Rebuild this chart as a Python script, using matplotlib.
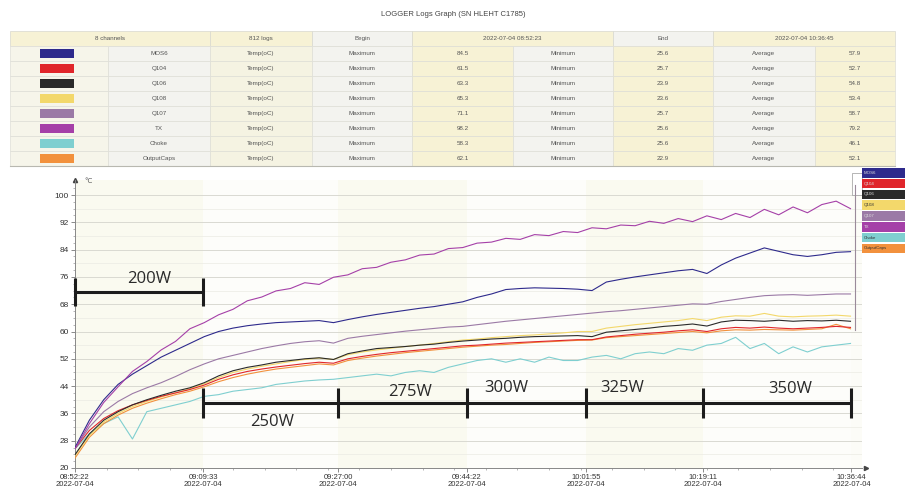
import matplotlib.pyplot as plt
from matplotlib.patches import Rectangle
from matplotlib.ticker import MultipleLocator

# sample index of each point (812 logs, one point every 15 samples)
samples = list(range(0, 811, 15))

channels = ['MOS6', 'Q104', 'Q106', 'Q108', 'Q107', 'TX', 'Choke', 'OutputCaps']
colors = ['#2e2a8c', '#e0262b', '#2a2a2a', '#f3d86b', '#9b7aa6', '#a540a8', '#7fcfd0', '#f2913d']

mos6 = [26.0, 34.0, 40.0, 44.5, 47.5, 50.0, 52.5, 54.5, 56.5, 58.5, 60.0, 61.0, 61.7, 62.2, 62.6, 62.8, 63.0, 63.2,
        62.6, 63.5, 64.3, 65.0, 65.6, 66.2, 66.8, 67.3, 68.0, 68.7, 70.0, 71.0, 72.3, 72.6, 72.8, 72.7, 72.6, 72.4,
        72.0, 74.5, 75.3, 76.0, 76.6, 77.2, 77.8, 78.2, 77.0, 79.5, 81.5, 83.0, 84.5, 83.5, 82.5, 82.0, 82.5, 83.2, 83.4]
q104 = [25.7, 31.0, 34.5, 36.8, 38.5, 39.8, 41.0, 42.0, 43.0, 44.3, 46.0, 47.3, 48.3, 49.0, 49.6, 50.1, 50.6, 51.0,
        50.7, 52.0, 52.7, 53.3, 53.8, 54.2, 54.6, 55.0, 55.4, 55.8, 56.0, 56.3, 56.6, 56.8, 57.0, 57.2, 57.4, 57.6,
        57.6, 58.4, 58.8, 59.2, 59.5, 59.8, 60.2, 60.5, 60.0, 60.8, 61.2, 61.0, 61.3, 61.0, 60.8, 61.0, 61.2, 61.5, 61.2]
q106 = [23.9, 30.0, 34.0, 36.5, 38.5, 40.0, 41.3, 42.5, 43.5, 45.0, 47.0, 48.5, 49.5, 50.2, 51.0, 51.5, 52.0, 52.3,
        51.8, 53.5, 54.3, 55.0, 55.3, 55.6, 56.0, 56.3, 56.8, 57.2, 57.5, 57.8, 58.0, 58.3, 58.5, 58.6, 58.7, 58.8,
        58.5, 59.8, 60.2, 60.6, 61.0, 61.5, 61.8, 62.2, 61.6, 62.8, 63.3, 63.2, 63.0, 63.3, 63.0, 63.2, 63.1, 63.3, 63.0]
q108 = [23.6, 29.5, 33.5, 36.0, 38.0, 39.5, 40.8, 42.0, 43.2, 44.7, 46.5, 48.0, 49.0, 49.8, 50.5, 51.2, 51.8, 52.2,
        51.8, 53.2, 54.0, 54.6, 55.1, 55.6, 56.0, 56.5, 57.0, 57.5, 57.8, 58.2, 58.5, 58.8, 59.0, 59.3, 59.6, 60.0,
        60.0, 61.0, 61.5, 62.0, 62.4, 62.8, 63.2, 63.8, 63.2, 64.2, 64.6, 64.5, 65.3, 64.5, 64.3, 64.5, 64.6, 64.8, 64.5]
q107 = [25.7, 32.0, 36.5, 39.5, 41.8, 43.5, 45.0, 46.8, 48.8, 50.5, 52.0, 53.0, 54.0, 55.0, 55.8, 56.5, 57.0, 57.3,
        56.6, 58.0, 58.6, 59.1, 59.6, 60.1, 60.5, 60.9, 61.3, 61.5, 62.0, 62.5, 63.0, 63.4, 63.8, 64.2, 64.6, 65.0,
        65.4, 65.8, 66.1, 66.5, 66.9, 67.3, 67.7, 68.1, 68.0, 68.8, 69.4, 70.0, 70.5, 70.7, 70.8, 70.6, 70.8, 71.0, 71.0]
tx = [25.6, 33.0, 39.2, 43.8, 48.3, 51.2, 54.6, 57.1, 60.8, 62.6, 64.9, 66.5, 69.0, 70.1, 71.9, 72.6, 74.3, 73.8,
      75.9, 76.6, 78.4, 78.8, 80.3, 81.0, 82.4, 82.7, 84.3, 84.6, 85.9, 86.2, 87.3, 87.0, 88.4, 88.1, 89.3, 89.0,
      90.4, 90.1, 91.2, 91.0, 92.3, 91.7, 93.1, 92.2, 93.9, 92.8, 94.6, 93.4, 95.8, 94.2, 96.5, 94.8, 97.2, 98.2, 96.0]
choke = [25.6, 30.0, 33.0, 35.0, 28.5, 36.5, 37.5, 38.5, 39.5, 41.0, 41.5, 42.5, 43.0, 43.5, 44.5, 45.0, 45.5, 45.8,
         46.0, 46.5, 47.0, 47.5, 47.0, 48.0, 48.5, 48.0, 49.5, 50.5, 51.5, 52.0, 51.0, 52.0, 51.0, 52.5, 51.5, 51.5,
         52.5, 53.0, 52.0, 53.5, 54.0, 53.5, 55.0, 54.5, 56.0, 56.5, 58.3, 55.0, 56.5, 53.5, 55.5, 54.0, 55.5, 56.0, 56.5]
outcaps = [22.9, 29.0, 33.0, 35.5, 37.5, 39.0, 40.3, 41.5, 42.5, 43.8, 45.3, 46.5, 47.5, 48.3, 49.0, 49.5, 50.0, 50.5,
           50.2, 51.5, 52.2, 52.8, 53.3, 53.8, 54.2, 54.6, 55.0, 55.4, 55.7, 56.0, 56.2, 56.5, 56.8, 57.0, 57.2, 57.4,
           57.5, 58.2, 58.5, 58.8, 59.1, 59.4, 59.7, 60.0, 59.6, 60.2, 60.5, 60.4, 60.6, 60.5, 60.4, 60.6, 60.8, 62.1, 60.8]
series = [mos6, q104, q106, q108, q107, tx, choke, outcaps]

t_max = [84.5, 61.5, 63.3, 65.3, 71.1, 98.2, 58.3, 62.1]
t_min = [25.6, 25.7, 23.9, 23.6, 25.7, 25.6, 25.6, 22.9]
t_avg = [57.9, 52.7, 54.8, 53.4, 58.7, 79.2, 46.1, 52.1]

tick_samples = [0, 134, 275, 409, 534, 656, 811]
tick_times = ['08:52:22', '09:09:33', '09:27:00', '09:44:22', '10:01:55', '10:19:11', '10:36:44']
power_labels = ['200W', '250W', '275W', '300W', '325W', '350W']

fig = plt.figure(figsize=(9.05, 4.96), dpi=100)
fig.patch.set_facecolor('white')

# ---- chart ----
ax = fig.add_axes([75 / 905, 28 / 496, 787 / 905, 288 / 496])
ax.set_facecolor('#fcfcf7')
band = ['#fafaf0', '#fdfdfa']
for i in range(len(tick_samples) - 1):
    ax.axvspan(tick_samples[i], tick_samples[i + 1], color=band[i % 2], lw=0, zorder=0)
for v in range(20, 101, 8):
    ax.axhline(v, color='#d9d9d2', lw=0.7, zorder=1)
for v in range(24, 101, 8):
    ax.axhline(v, color='#ebebe4', lw=0.5, zorder=1)

order = [6, 7, 3, 1, 2, 4, 0, 5]
for k in order:
    ax.plot(samples, series[k], color=colors[k], lw=0.8, zorder=3)

ax.set_xlim(0, 822)
ax.set_ylim(20, 104.4)
ax.set_yticks(range(20, 101, 8))
ax.yaxis.set_minor_locator(MultipleLocator(2))
ax.xaxis.set_minor_locator(MultipleLocator(33))
ax.set_xticks(tick_samples)
ax.set_xticklabels([t + '\n2022-07-04' for t in tick_times], fontsize=5.5, color='#333',
                   family='Liberation Sans', linespacing=0.95)
for lab in ax.get_yticklabels():
    lab.set_fontsize(6)
    lab.set_color('#333')
    lab.set_family('Liberation Sans')
ax.tick_params(which='major', length=3, width=0.6, color='#777', pad=1.5)
ax.tick_params(which='minor', length=1.5, width=0.5, color='#999')
for s in ['top', 'right']:
    ax.spines[s].set_visible(False)
for s in ['left', 'bottom']:
    ax.spines[s].set_color('#888')
    ax.spines[s].set_linewidth(0.7)
ax.plot([0], [1], marker='^', ms=3, color='#444', transform=ax.transAxes, clip_on=False)
ax.plot([1.005], [0], marker='>', ms=3, color='#444', transform=ax.transAxes, clip_on=False)
ax.text(0.012, 0.995, '°C', transform=ax.transAxes, fontsize=5, color='#555', va='center')

# power step brackets
bk = dict(color='#1c1c1c', lw=2.2, zorder=5, clip_on=False)
ax.hlines(71.6, tick_samples[0], tick_samples[1], **bk)
ax.vlines(tick_samples[:2], 67.6, 75.6, **bk)
ax.hlines(39.0, tick_samples[1], tick_samples[-1], **bk)
ax.vlines(tick_samples[1:], 34.7, 43.4, **bk)
label_pos = [(78, 75.3), (206, 33.5), (350, 42.4), (450, 43.4), (572, 43.4), (747, 43.2)]
for (lx, ly), txt in zip(label_pos, power_labels):
    ax.text(lx, ly, txt, fontsize=12, family='Open Sans', color='#2a2a2a', ha='center', va='center', zorder=6)

# ---- table, title and side legend drawn in pixel space ----
ov = fig.add_axes([0, 0, 1, 1])
ov.set_xlim(0, 905)
ov.set_ylim(496, 0)
ov.axis('off')
ov.set_zorder(5)
ov.patch.set_visible(False)

cream = '#f7f2d5'
light = '#f3f3ef'
tk = dict(fontsize=4.5, color='#555', ha='center', va='center', family='Liberation Sans')

ov.text(453, 15, 'LOGGER Logs Graph (SN HLEHT C1785)', fontsize=5.5, color='#444', ha='center', va='center',
        family='Liberation Sans')

edges = [10, 108, 210, 312, 412, 513, 613, 713, 815, 895]
top, hh, rh = 31, 15, 15
header = [(10, 210, '8 channels', cream), (210, 312, '812 logs', cream), (312, 412, 'Begin', light),
          (412, 613, '2022-07-04 08:52:23', cream), (613, 713, 'End', light), (713, 895, '2022-07-04 10:36:45', cream)]
for x0, x1, txt, c in header:
    ov.add_patch(Rectangle((x0, top), x1 - x0, hh, facecolor=c, edgecolor='#d8d8cf', lw=0.5))
    ov.text((x0 + x1) / 2, top + hh / 2, txt, **tk)

col_fill = ['#f6f5ea', light, '#f5f3e2', light, cream, light, cream, light, cream]
for r, name in enumerate(channels):
    y0 = top + hh + r * rh
    cells = ['', name, 'Temp(oC)', 'Maximum', f'{t_max[r]:.1f}', 'Minimum', f'{t_min[r]:.1f}',
             'Average', f'{t_avg[r]:.1f}']
    for c in range(9):
        x0, x1 = edges[c], edges[c + 1]
        ov.add_patch(Rectangle((x0, y0), x1 - x0, rh, facecolor=col_fill[c], edgecolor='#deded6', lw=0.5))
        if cells[c]:
            ov.text((x0 + x1) / 2, y0 + rh / 2, cells[c], **tk)
    ov.add_patch(Rectangle((40, y0 + 3), 34, rh - 6, facecolor=colors[r], edgecolor='none'))
ov.plot([10, 895], [top + hh + 8 * rh, top + hh + 8 * rh], color='#b8b8b0', lw=0.8)

# side legend at the right of the chart
ov.add_patch(Rectangle((852, 173), 10, 22, facecolor='white', edgecolor='#999', lw=0.5))
ov.plot([855, 855], [185, 330], color='#9a8a9a', lw=0.8)
for r, name in enumerate(channels):
    y0 = 168 + r * 10.8
    ov.add_patch(Rectangle((862, y0), 43, 9.5, facecolor=colors[r], edgecolor='none'))
    tc = '#333' if r in (3, 6, 7) else '#ddd'
    ov.text(864, y0 + 4.8, name, fontsize=3.2, color=tc, va='center', family='Liberation Sans')

fig.savefig('out.png', dpi=100)
